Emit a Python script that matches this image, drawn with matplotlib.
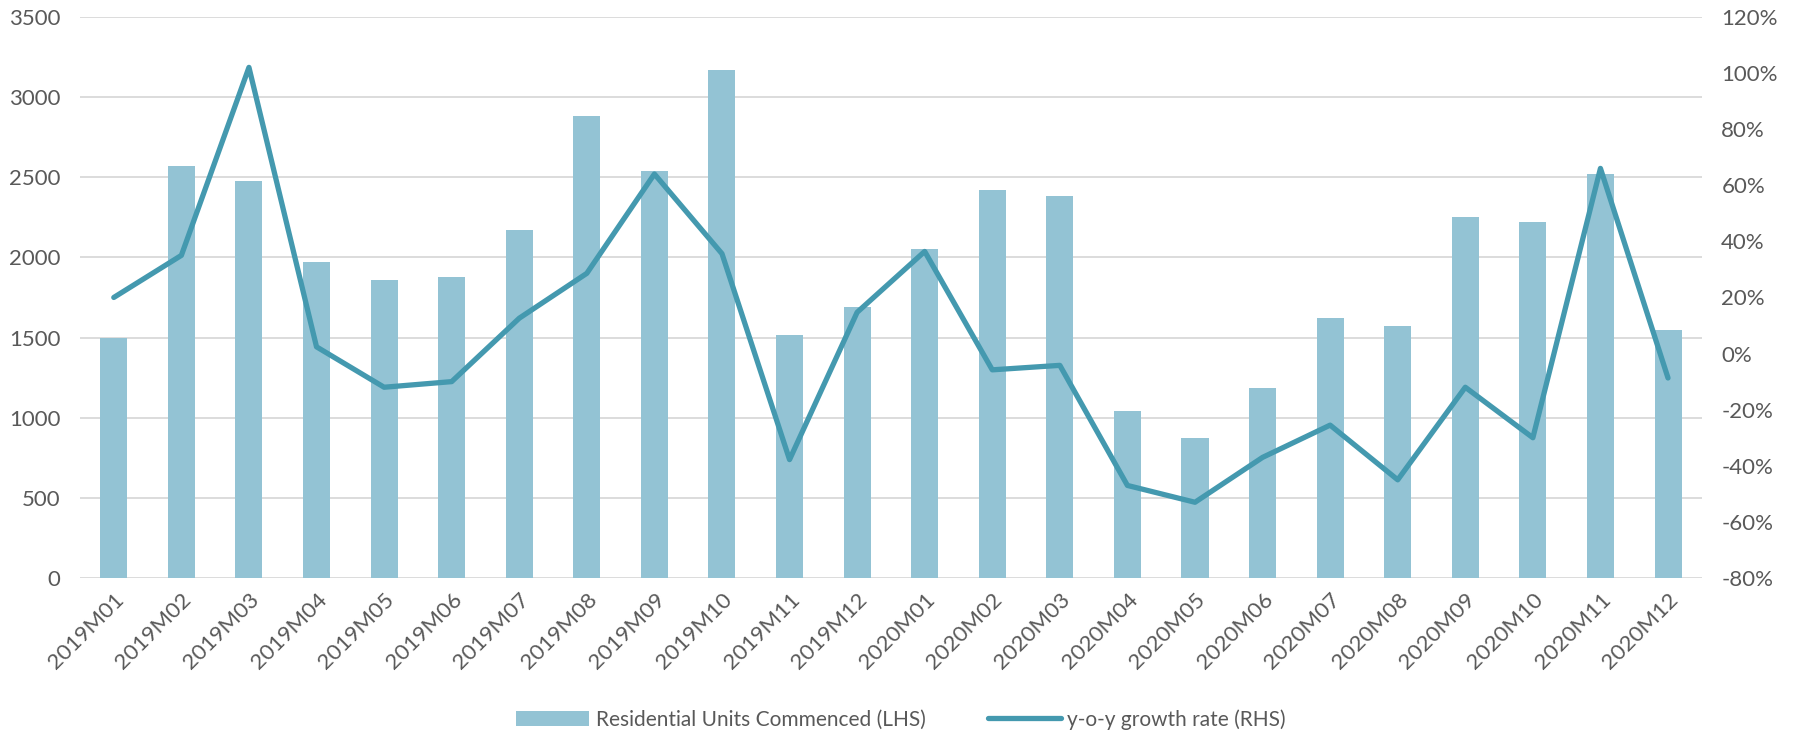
import matplotlib.pyplot as plt
from matplotlib.ticker import FuncFormatter, MultipleLocator

plt.rcParams['font.family'] = ['Lato', 'DejaVu Sans']

# monthly residential starts and year-on-year growth
months = ['2019M01', '2019M02', '2019M03', '2019M04', '2019M05', '2019M06',
          '2019M07', '2019M08', '2019M09', '2019M10', '2019M11', '2019M12',
          '2020M01', '2020M02', '2020M03', '2020M04', '2020M05', '2020M06',
          '2020M07', '2020M08', '2020M09', '2020M10', '2020M11', '2020M12']
units = [1500, 2570, 2475, 1970, 1860, 1875, 2170, 2880, 2540, 3170, 1515, 1690,
         2050, 2420, 2380, 1040, 875, 1185, 1620, 1570, 2250, 2220, 2520, 1550]
growth = [20, 35, 102, 2.4, -12, -10, 12.6, 28.6, 64, 35.6, -37.8, 14.7,
          36.4, -5.8, -4.2, -47, -53, -37, -25.5, -45, -12, -30, 66, -8.7]

bar_col = '#93C3D4'
line_col = '#4499AF'
txt_col = '#595959'

fig = plt.figure(figsize=(18.02, 7.34), dpi=100)
ax = fig.add_axes([0.0444, 0.2125, 0.9, 0.7645])
ax2 = ax.twinx()

x = range(len(months))
ax.bar(x, units, width=0.4, color=bar_col, zorder=2, label='Residential Units Commenced (LHS)')
ax2.plot(x, growth, color=line_col, lw=3.8, solid_capstyle='round', solid_joinstyle='round',
         label='y-o-y growth rate (RHS)')

ax.set_ylim(0, 3500)
ax.yaxis.set_major_locator(MultipleLocator(500))
ax2.set_ylim(-80, 120)
ax2.yaxis.set_major_locator(MultipleLocator(20))
ax2.yaxis.set_major_formatter(FuncFormatter(lambda v, p: f'{v:.0f}%'))
ax.set_xlim(-0.5, len(months) - 0.5)

ax.grid(axis='y', color='#D9D9D9', lw=1.3, zorder=0)
ax.set_xticks(list(x))
ax.set_xticklabels(months, rotation=45, ha='right', rotation_mode='anchor')

for a in (ax, ax2):
    for s in a.spines.values():
        s.set_visible(False)
    a.tick_params(length=0, labelsize=16, labelcolor=txt_col)
ax.tick_params(axis='y', pad=14)
ax.tick_params(axis='x', pad=8)
ax2.tick_params(axis='y', pad=14)

h1, l1 = ax.get_legend_handles_labels()
h2, l2 = ax2.get_legend_handles_labels()
leg = fig.legend(h1 + h2, l1 + l2, loc='center', bbox_to_anchor=(0.5, 0.02), ncol=2,
                 frameon=False, fontsize=15, handlelength=3.5, columnspacing=3,
                 handletextpad=0.3)
for t in leg.get_texts():
    t.set_color(txt_col)

fig.savefig('out.png', dpi=100)
